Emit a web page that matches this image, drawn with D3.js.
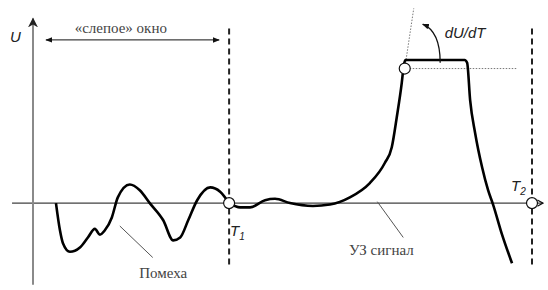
<!DOCTYPE html>
<html>
<head>
<meta charset="utf-8">
<script src="https://cdn.jsdelivr.net/npm/d3@7"></script>
<style>
  html, body { margin: 0; padding: 0; background: #fff; }
  svg { display: block; }
  .serif { font-family: "Liberation Serif", "DejaVu Serif", serif; }
  .sans { font-family: "Liberation Sans", "DejaVu Sans", sans-serif; font-style: italic; }
</style>
</head>
<body>
<svg width="548" height="290"></svg>
<script>
const width = 548;
const height = 290;

// time (arbitrary units) and amplitude U (plateau = 1)
const T1 = 39.3;
const T2 = 100;
const noiseT = [4.6, 5.4, 6.0, 7.4, 9.4, 11.0, 12.4, 13.4, 14.4, 15.8, 17.0, 19.4, 21.4, 23.4, 26.1, 28.1, 29.5, 31.1, 32.9, 35.5, 37.5, 39.3];
const noiseU = [0, -0.19, -0.28, -0.34, -0.31, -0.24, -0.18, -0.22, -0.19, -0.10, 0.04, 0.13, 0.09, 0, -0.12, -0.26, -0.24, -0.12, 0.02, 0.11, 0.08, 0];
const signalT = [39.3, 41.5, 43.5, 46.5, 48.5, 51.5, 56.1, 59.5, 63.5, 67.5, 70.5, 71.9, 72.9, 73.9, 74.3, 74.6, 86.5, 87.0, 87.6, 88.6, 90.0, 91.2, 92.2, 94.0, 96.0];
const signalU = [0, -0.03, -0.03, 0.02, 0.03, 0.0, -0.02, -0.01, 0.04, 0.14, 0.28, 0.39, 0.60, 0.84, 0.96, 1.0, 1.0, 0.98, 0.72, 0.49, 0.25, 0.09, -0.01, -0.22, -0.42];
const peakPoint = { t: 74.5, u: 0.94 };
const tangentT = [74.5, 76.3];
const tangentU = [0.94, 1.36];
const levelT = [75.5, 97];

const x = d3.scaleLinear().domain([0, 100]).range([33, 532]);
const y = d3.scaleLinear().domain([-0.6, 1.3]).range([289, 17]);

const svg = d3.select("svg");

const defs = svg.append("defs");
defs.append("marker")
  .attr("id", "tri")
  .attr("viewBox", "0 0 10 10")
  .attr("refX", 9).attr("refY", 5)
  .attr("markerWidth", 7).attr("markerHeight", 7)
  .attr("markerUnits", "userSpaceOnUse")
  .attr("orient", "auto-start-reverse")
  .append("path")
  .attr("d", "M0,1 L10,5 L0,9 Z")
  .attr("fill", "#111");
defs.append("marker")
  .attr("id", "triGray")
  .attr("viewBox", "0 0 10 10")
  .attr("refX", 9).attr("refY", 5)
  .attr("markerWidth", 10).attr("markerHeight", 12)
  .attr("markerUnits", "userSpaceOnUse")
  .attr("orient", "auto")
  .append("path")
  .attr("d", "M0,0 L10,5 L0,10 L3,5 Z")
  .attr("fill", "#222");
defs.append("marker")
  .attr("id", "chev")
  .attr("viewBox", "0 0 10 10")
  .attr("refX", 9).attr("refY", 5)
  .attr("markerWidth", 8).attr("markerHeight", 8)
  .attr("markerUnits", "userSpaceOnUse")
  .attr("orient", "auto")
  .append("path")
  .attr("d", "M2,1 L9,5 L2,9")
  .attr("fill", "none")
  .attr("stroke", "#111")
  .attr("stroke-width", 1.5);

// axes
svg.append("line")
  .attr("x1", x(-4.2)).attr("x2", x(102.2))
  .attr("y1", y(0)).attr("y2", y(0))
  .attr("stroke", "#111").attr("stroke-width", 1)
  .attr("marker-end", "url(#chev)");

svg.append("line")
  .attr("x1", x(0)).attr("x2", x(0))
  .attr("y1", y(-0.57)).attr("y2", y(1.29))
  .attr("stroke", "#8a8a8a").attr("stroke-width", 2)
  .attr("marker-end", "url(#triGray)");

svg.append("text")
  .attr("class", "sans")
  .attr("x", 10).attr("y", 42)
  .attr("font-size", 15)
  .attr("fill", "#222")
  .text("U");

// blind window arrow
svg.append("line")
  .attr("x1", x(2.6)).attr("x2", x(37.3))
  .attr("y1", y(1.14)).attr("y2", y(1.14))
  .attr("stroke", "#111").attr("stroke-width", 1)
  .attr("marker-start", "url(#tri)")
  .attr("marker-end", "url(#tri)");

svg.append("text")
  .attr("class", "serif")
  .attr("x", x(17.6)).attr("y", y(1.19))
  .attr("text-anchor", "middle")
  .attr("font-size", 15)
  .attr("fill", "#444")
  .text("«слепое» окно");

// dashed time marks
svg.selectAll("line.mark")
  .data([{ t: T1, top: 1.22, bot: -0.43 }, { t: T2, top: 1.22, bot: -0.43 }])
  .join("line")
  .attr("class", "mark")
  .attr("x1", d => x(d.t)).attr("x2", d => x(d.t))
  .attr("y1", d => y(d.top)).attr("y2", d => y(d.bot))
  .attr("stroke", "#222").attr("stroke-width", 2)
  .attr("stroke-dasharray", "6,4");

// tangent and level guides
svg.append("line")
  .attr("x1", x(tangentT[0])).attr("x2", x(tangentT[1]))
  .attr("y1", y(tangentU[0])).attr("y2", y(tangentU[1]))
  .attr("stroke", "#555").attr("stroke-width", 0.8)
  .attr("stroke-dasharray", "1.5,1.5");
svg.append("line")
  .attr("x1", x(levelT[0])).attr("x2", x(levelT[1]))
  .attr("y1", y(peakPoint.u)).attr("y2", y(peakPoint.u))
  .attr("stroke", "#555").attr("stroke-width", 0.8)
  .attr("stroke-dasharray", "1.5,1.5");

// curves
const line = d3.line()
  .x(d => x(d[0]))
  .y(d => y(d[1]))
  .curve(d3.curveMonotoneX);

svg.append("path")
  .attr("d", line(d3.zip(noiseT, noiseU)))
  .attr("fill", "none").attr("stroke", "#000").attr("stroke-width", 2.6)
  .attr("stroke-linejoin", "round");

svg.append("path")
  .attr("d", line(d3.zip(signalT, signalU)))
  .attr("fill", "none").attr("stroke", "#000").attr("stroke-width", 2.6)
  .attr("stroke-linejoin", "round");

// curved derivative arrow
const arc = d3.path();
arc.moveTo(x(81.6), y(0.98));
arc.quadraticCurveTo(x(81.6), y(1.2), x(78.1), y(1.25));
svg.append("path")
  .attr("d", arc.toString())
  .attr("fill", "none").attr("stroke", "#111").attr("stroke-width", 1.3)
  .attr("marker-end", "url(#tri)");

svg.append("text")
  .attr("class", "sans")
  .attr("x", x(82.5)).attr("y", y(1.15))
  .attr("font-size", 15)
  .attr("fill", "#222")
  .text("dU/dT");

// circles
svg.selectAll("circle")
  .data([{ t: T1, u: 0 }, { t: T2, u: 0 }, peakPoint])
  .join("circle")
  .attr("cx", d => x(d.t)).attr("cy", d => y(d.u))
  .attr("r", 5.5)
  .attr("fill", "#fff").attr("stroke", "#111").attr("stroke-width", 1.2);

// T labels
const tLabels = [{ t: T1 + 0.2, u: -0.23, s: "1" }, { t: T2 - 4.2, u: 0.084, s: "2" }];
const tl = svg.selectAll("text.tl")
  .data(tLabels)
  .join("text")
  .attr("class", "tl sans")
  .attr("x", d => x(d.t)).attr("y", d => y(d.u))
  .attr("font-size", 15)
  .attr("fill", "#222");
tl.append("tspan").text("T");
tl.append("tspan").attr("dy", 4).attr("font-size", 10).text(d => d.s);

// leaders
const leaders = [
  { t0: 17.4, u0: -0.16, t1: 24.0, u1: -0.38, label: "Помеха", lt: 26.1, lu: -0.525 },
  { t0: 69.0, u0: 0.01, t1: 74.2, u1: -0.24, label: "УЗ сигнал", lt: 69.8, lu: -0.365 }
];
svg.selectAll("line.leader")
  .data(leaders)
  .join("line")
  .attr("class", "leader")
  .attr("x1", d => x(d.t0)).attr("y1", d => y(d.u0))
  .attr("x2", d => x(d.t1)).attr("y2", d => y(d.u1))
  .attr("stroke", "#555").attr("stroke-width", 1);
svg.selectAll("text.leader")
  .data(leaders)
  .join("text")
  .attr("class", "leader serif")
  .attr("x", d => x(d.lt)).attr("y", d => y(d.lu))
  .attr("text-anchor", "middle")
  .attr("font-size", 15)
  .attr("fill", "#444")
  .text(d => d.label);
</script>
</body>
</html>
